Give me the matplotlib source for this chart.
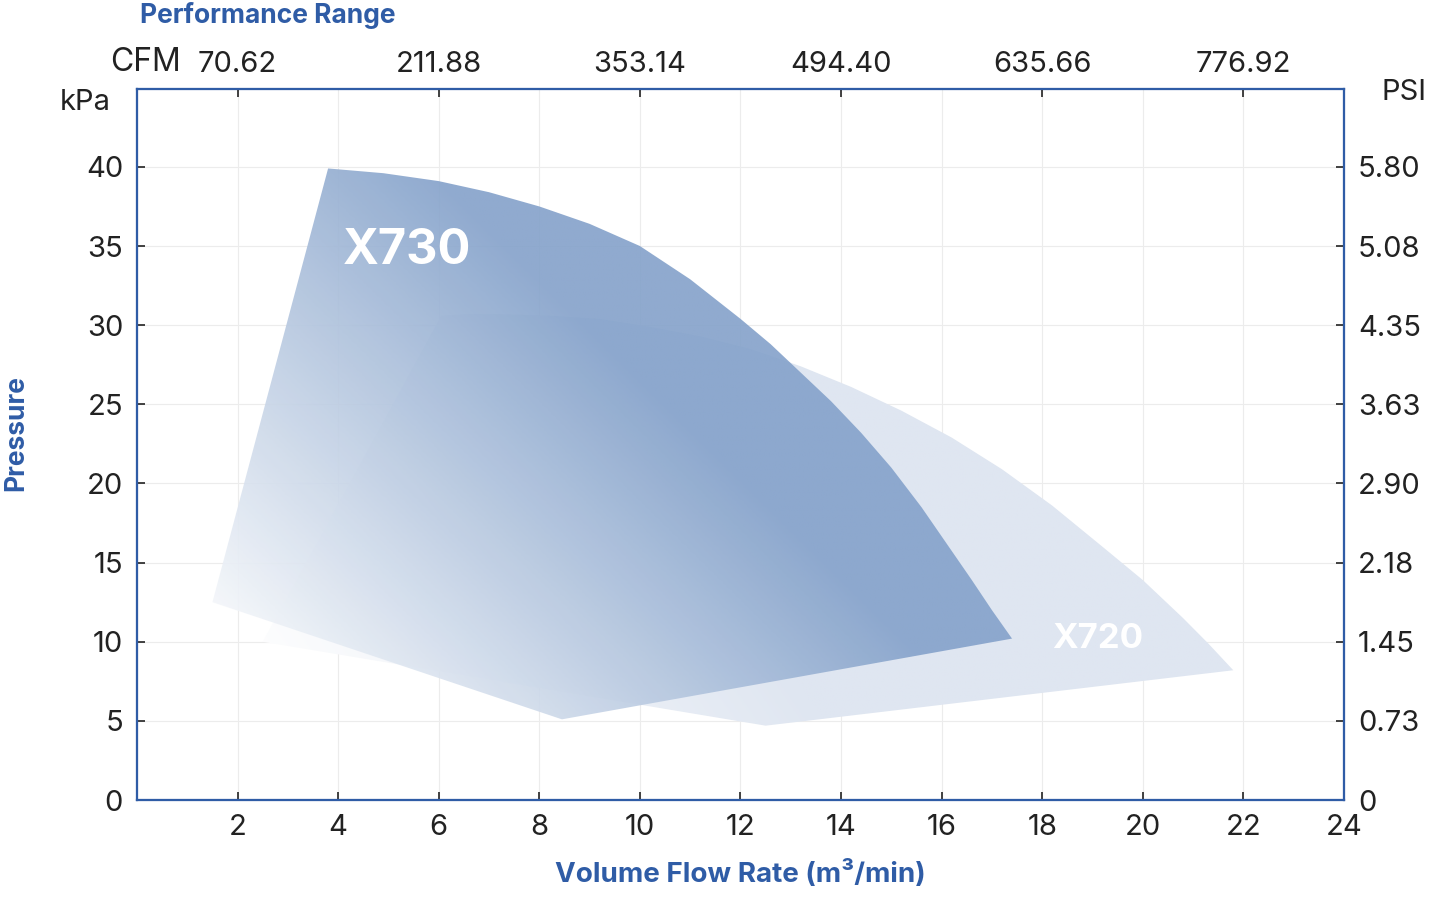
import numpy as np
import matplotlib.pyplot as plt
from matplotlib.patches import Polygon
from matplotlib.colors import LinearSegmentedColormap

plt.rcParams['font.family'] = ['Inter', 'DejaVu Sans']

x_ticks = [2, 4, 6, 8, 10, 12, 14, 16, 18, 20, 22, 24]
y_ticks = [0, 5, 10, 15, 20, 25, 30, 35, 40]
psi_labels = ['0', '0.73', '1.45', '2.18', '2.90', '3.63', '4.35', '5.08', '5.80']
cfm_pos = [2, 6, 10, 14, 18, 22]
cfm_labels = ['70.62', '211.88', '353.14', '494.40', '635.66', '776.92']

x730_x = [3.8, 4.9, 6.0, 7.0, 8.0, 9.0, 10.0, 11.0, 12.0, 12.6, 13.2, 13.8, 14.4, 15.0, 15.6, 16.1, 16.6, 17.0, 17.4, 8.45, 1.5]
x730_y = [39.9, 39.6, 39.1, 38.4, 37.5, 36.4, 35.0, 32.9, 30.4, 28.8, 27.0, 25.2, 23.2, 21.0, 18.5, 16.2, 13.9, 12.0, 10.2, 5.1, 12.5]
x720_x = [6.05, 6.5, 7.2, 8.2, 9.2, 10.2, 11.2, 12.2, 13.2, 14.2, 15.2, 16.2, 17.2, 18.2, 19.2, 20.0, 20.8, 21.3, 21.8, 12.5, 2.5]
x720_y = [30.6, 30.7, 30.7, 30.6, 30.4, 29.9, 29.3, 28.5, 27.4, 26.1, 24.6, 22.9, 20.9, 18.6, 16.0, 13.9, 11.5, 9.9, 8.2, 4.7, 10]

blue = '#2f5ca6'
fig = plt.figure(figsize=(14.42, 9.02), dpi=100)
ax = fig.add_axes([0.095, 0.113, 0.837, 0.788])
ax.set_xlim(0, 24)
ax.set_ylim(0, 44.9)

X, Y = np.meshgrid(np.linspace(0, 24, 400), np.linspace(0, 45, 400))

def grad(xs, ys, c1, x0, x1, ywt, alpha, z):
    poly = Polygon(list(zip(xs, ys)), closed=True, facecolor='none', edgecolor='none')
    ax.add_patch(poly)
    t = np.clip((X - x0) / (x1 - x0) + (Y - 8) * ywt, 0, 1)
    cmap = LinearSegmentedColormap.from_list('g', ['#ffffff', c1])
    im = ax.imshow(t, extent=[0, 24, 0, 45], origin='lower', cmap=cmap, vmin=0, vmax=1,
                   aspect='auto', alpha=alpha, zorder=z, interpolation='bilinear')
    im.set_clip_path(poly)

grad(x720_x, x720_y, '#dfe6f1', 2, 13, 0.02, 1.0, 2)
grad(x730_x, x730_y, '#86a3cb', 1.5, 16, 0.022, 0.92, 3)

ax.text(4.1, 34.7, 'X730', color='white', fontsize=35, fontweight='bold', va='center', zorder=5)
ax.text(18.2, 10.2, 'X720', color='white', fontsize=25, fontweight='bold', va='center', zorder=5)

ax.set_xticks(x_ticks)
ax.set_yticks(y_ticks)
ax.grid(color='#ececec', lw=0.8, zorder=0)
ax.tick_params(direction='in', labelsize=21, colors='#222', length=6, width=1.2, pad=10)
for s in ax.spines.values():
    s.set_color(blue); s.set_linewidth(1.5)

ay = ax.twinx()
ay.set_ylim(ax.get_ylim())
ay.set_yticks(y_ticks)
ay.set_yticklabels(psi_labels)
ay.tick_params(direction='in', labelsize=21, colors='#222', length=6, width=1.2, pad=10)

axt = ax.twiny()
axt.set_xlim(ax.get_xlim())
axt.set_xticks(cfm_pos)
axt.set_xticklabels(cfm_labels)
axt.tick_params(direction='in', labelsize=21, colors='#222', length=6, width=1.2, pad=8)
for a in (ay, axt):
    for s in a.spines.values():
        s.set_color(blue); s.set_linewidth(1.5)

ax.set_xlabel('Volume Flow Rate (m³/min)', color=blue, fontsize=20, fontweight='bold', labelpad=14)
fig.text(0.011, 0.52, 'Pressure', color=blue, fontsize=19, fontweight='bold', rotation=90, va='center', ha='center')
fig.text(0.097, 0.983, 'Performance Range', color=blue, fontsize=19, fontweight='bold', va='center')
fig.text(0.101, 0.931, 'CFM', color='#222', fontsize=23, va='center', ha='center')
fig.text(0.059, 0.886, 'kPa', color='#222', fontsize=21, va='center', ha='center')
fig.text(0.974, 0.898, 'PSI', color='#222', fontsize=21, va='center', ha='center')

fig.savefig('out.png', dpi=100)
